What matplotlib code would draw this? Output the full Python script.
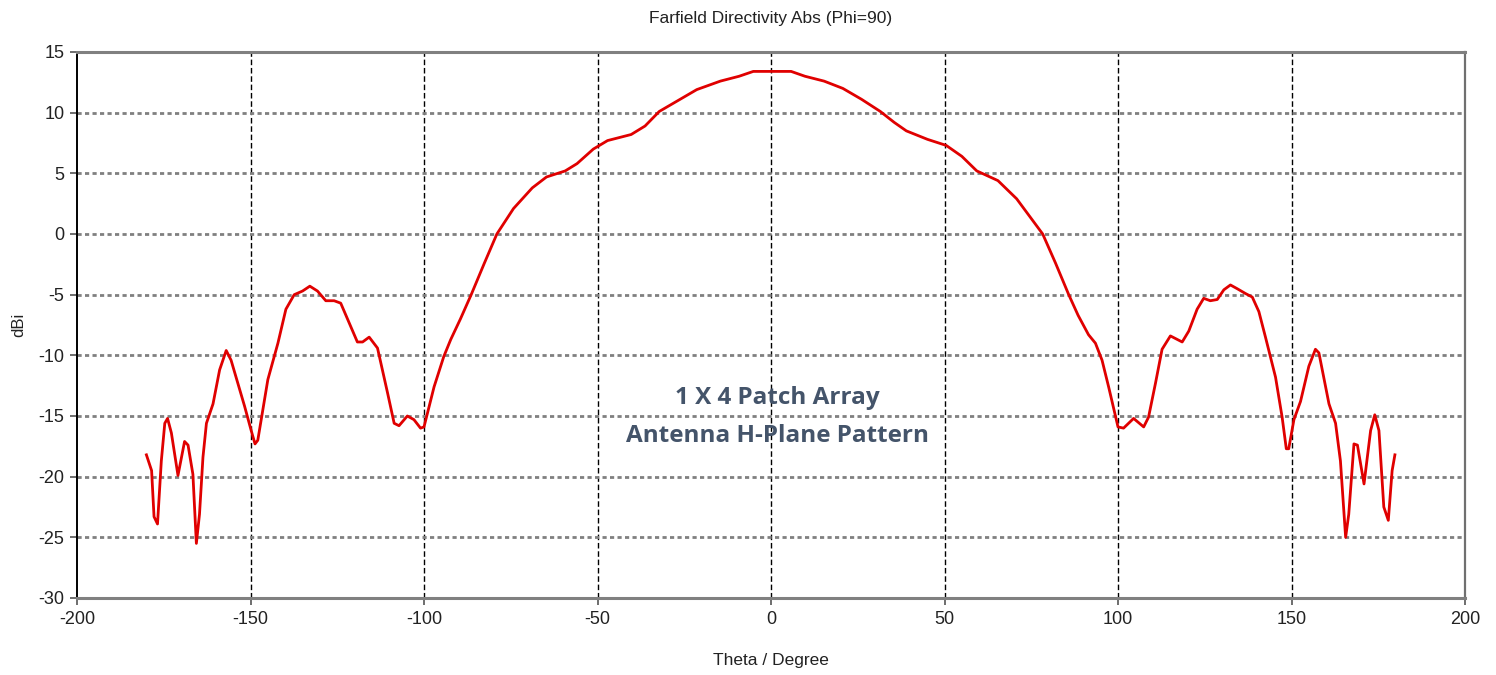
import matplotlib
matplotlib.use("Agg")
import matplotlib.pyplot as plt
import numpy as np

theta = [-180.0, -178.5, -177.8, -176.8, -175.7, -174.7, -173.9, -172.8, -170.9, -169.0,
         -168.0, -166.6, -165.6, -164.7, -163.7, -162.7, -160.8, -158.9, -157.0, -155.6,
         -151.7, -149.8, -148.7, -147.9, -145.0, -142.1, -139.8, -137.4, -135.0, -132.9,
         -130.7, -128.3, -125.9, -124.0, -121.6, -119.2, -117.7, -115.8, -113.4, -110.5,
         -108.6, -107.2, -104.8, -102.9, -101.0, -100.0, -97.1, -94.3, -92.3, -89.5,
         -86.4, -82.6, -79.0, -74.2, -68.8, -64.7, -59.3, -55.9, -51.2, -47.1,
         -40.3, -36.3, -32.2, -26.8, -21.4, -14.6, -9.2, -5.1, 0.3, 5.8,
         9.8, 15.3, 20.7, 26.1, 31.5, 35.5, 39.0, 45.1, 50.5, 55.0, 59.3, 65.4,
         70.8, 78.3, 82.0, 85.8, 88.5, 91.5, 93.5, 95.4, 97.3, 100.0,
         101.6, 104.5, 107.4, 108.8, 110.8, 112.7, 115.1, 118.5, 120.4, 122.8,
         124.7, 126.6, 128.6, 130.5, 132.4, 134.3, 136.7, 138.7, 140.6, 142.5,
         145.4, 147.3, 148.5, 149.2, 150.7, 152.6, 155.0, 156.9, 157.9, 160.8,
         162.7, 164.1, 165.6, 166.5, 168.0, 169.0, 170.9, 172.8, 174.0, 175.2,
         176.6, 177.9, 179.0, 179.8]
directivity = [-18.2, -19.5, -23.3, -23.9, -18.7, -15.6, -15.2, -16.4, -19.9, -17.1,
               -17.4, -19.8, -25.5, -23.1, -18.4, -15.6, -14.0, -11.2, -9.6, -10.4,
               -14.2, -16.2, -17.3, -17.0, -12.0, -9.0, -6.2, -5.0, -4.7, -4.3,
               -4.7, -5.5, -5.5, -5.7, -7.3, -8.9, -8.9, -8.5, -9.4, -13.1,
               -15.6, -15.8, -15.0, -15.3, -16.0, -15.9, -12.6, -10.1, -8.7, -7.0,
               -5.0, -2.4, 0.0, 2.1, 3.8, 4.7, 5.2, 5.8, 7.0, 7.7,
               8.2, 8.9, 10.1, 11.0, 11.9, 12.6, 13.0, 13.4, 13.4, 13.4,
               13.0, 12.6, 12.0, 11.1, 10.1, 9.2, 8.5, 7.8, 7.3, 6.4, 5.2, 4.4,
               2.9, 0.0, -2.4, -5.0, -6.7, -8.3, -9.0, -10.4, -12.6, -15.9,
               -16.0, -15.2, -15.9, -15.1, -12.3, -9.5, -8.4, -8.9, -8.0, -6.2,
               -5.3, -5.5, -5.4, -4.6, -4.2, -4.5, -4.9, -5.2, -6.4, -8.5,
               -11.8, -15.1, -17.7, -17.7, -15.3, -13.8, -10.9, -9.5, -9.8, -14.0,
               -15.6, -18.7, -25.0, -23.1, -17.3, -17.4, -20.6, -16.2, -14.9, -16.2,
               -22.5, -23.6, -19.5, -18.2]

x_ticks = [-200, -150, -100, -50, 0, 50, 100, 150, 200]
y_ticks = [15, 10, 5, 0, -5, -10, -15, -20, -25, -30]

title = "Farfield Directivity Abs (Phi=90)"
x_label = "Theta / Degree"
y_label = "dBi"
annotation = "1 X 4 Patch Array\nAntenna H-Plane Pattern"

W, H = 1496, 675
fig = plt.figure(figsize=(W / 100, H / 100), dpi=100)
ax = fig.add_axes([77 / W, 1 - 598 / H, (1465 - 77) / W, (598 - 52) / H])

tick_font = ['Liberation Sans', 'DejaVu Sans']

# grid
for xv in x_ticks[1:-1]:
    ax.axvline(xv, color='black', lw=1.0, dashes=(4, 2), zorder=1)
for yv in y_ticks[1:-1]:
    ax.axhline(yv, color='#808080', lw=2.0, dashes=(1.5, 1.2), zorder=1)

ax.plot(theta, directivity, color='#e00000', lw=2.0, zorder=3)

ax.set_xlim(-200, 200)
ax.set_ylim(-30, 15)
ax.set_xticks(x_ticks)
ax.set_yticks(y_ticks)
ax.set_xticklabels([str(v) for v in x_ticks], family=tick_font, fontsize=13, color='#222222')
ax.set_yticklabels([str(v) for v in y_ticks], family=tick_font, fontsize=13, color='#222222')
ax.tick_params(axis='both', direction='out', length=5, width=1.2, colors='#555555',
               labelcolor='#222222', pad=4)

for side in ['top', 'bottom']:
    ax.spines[side].set_color('#808080')
    ax.spines[side].set_linewidth(2.2)
ax.spines['right'].set_color('#707070')
ax.spines['right'].set_linewidth(1.6)
ax.spines['left'].set_color('black')
ax.spines['left'].set_linewidth(1.4)

fig.text(771 / W, 1 - 19 / H, title, ha='center', va='center', fontsize=12.5,
         family=tick_font, color='#222222')
fig.text(771 / W, 1 - 661 / H, x_label, ha='center', va='center', fontsize=12.5,
         family=tick_font, color='#222222')
fig.text(19 / W, 1 - 325 / H, y_label, ha='center', va='center', fontsize=12,
         family=tick_font, color='#222222', rotation=90)

ax.text(1.8, -15.1, annotation, ha='center', va='center', fontsize=17.5,
        fontweight='bold', family=['Open Sans', 'DejaVu Sans'], color='#44546a',
        linespacing=1.75, zorder=4)

fig.savefig("out.png", dpi=100, facecolor='white')
